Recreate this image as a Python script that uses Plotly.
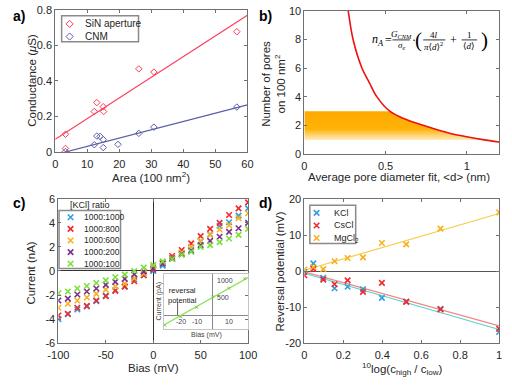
import numpy as np
import plotly.graph_objects as go

W, H = 512, 386

# ---- a) conductance vs area
area_sin = [3.2, 3.2, 12.2, 13.0, 15.0, 15.1, 26.1, 30.8, 56.7]
g_sin = [0.100, 0.020, 0.228, 0.278, 0.255, 0.228, 0.468, 0.450, 0.677]
area_cnm = [3.2, 12.2, 13.0, 14.0, 15.0, 15.0, 19.6, 26.1, 30.8, 56.7]
g_cnm = [0.003, 0.041, 0.090, 0.088, 0.070, 0.025, 0.043, 0.105, 0.140, 0.253]
area_fit = [0, 60]
fit_sin = (0.01163, 0.072)     # slope, intercept
fit_cnm = (0.00467, -0.015)

# ---- b) pore density vs diameter
diam = [0.26, 0.27, 0.30, 0.355, 0.40, 0.447, 0.526, 0.60, 0.75, 0.90, 1.00, 1.10, 1.20]
n_pores = [10.8, 10.0, 8.0, 6.0, 5.0, 4.0, 3.0, 2.55, 1.95, 1.45, 1.22, 1.02, 0.85]
band = (1.0, 3.0)

# ---- c) I-V curves
bias = [-100, -90, -80, -70, -60, -50, -40, -30, -20, -10, 0,
        10, 20, 30, 40, 50, 60, 70, 80, 90, 100]
ratios = ["1000:1000", "1000:800", "1000:600", "1000:200", "1000:100"]
i_1000 = [-4.0, -3.6, -3.2, -2.95, -2.5, -2.05, -1.6, -1.3, -0.7, -0.35, 0.0,
          0.45, 1.0, 1.5, 1.75, 2.45, 3.05, 3.75, 4.05, 4.6, 5.2]
i_800 = [-3.7, -3.55, -3.05, -2.9, -2.45, -2.1, -1.65, -1.3, -0.85, -0.35, 0.1,
         0.7, 1.25, 1.75, 2.3, 2.9, 3.5, 4.0, 4.65, 5.2, 5.7]
i_600 = [-3.05, -2.72, -2.45, -2.2, -1.9, -1.55, -1.3, -1.05, -0.6, -0.2, 0.35,
         0.65, 1.1, 1.55, 2.0, 2.5, 3.0, 3.45, 3.8, 4.4, 4.8]
i_200 = [-2.45, -2.3, -1.95, -1.7, -1.45, -1.15, -0.9, -0.65, -0.28, -0.05, 0.2,
         0.6, 1.05, 1.4, 1.65, 2.15, 2.5, 2.85, 3.25, 3.55, 4.0]
i_100 = [-1.85, -1.7, -1.45, -1.25, -1.0, -0.78, -0.52, -0.3, 0.0, 0.28, 0.5,
         0.8, 1.0, 1.35, 1.6, 2.0, 2.15, 2.4, 2.7, 3.0, 3.5]
currents = [i_1000, i_800, i_600, i_200, i_100]

# inset (pA)
inset_bias = [-30, -20, -10, 0, 10, 20]
inset_current = [-300, -50, 225, 528, 783, 1066]
inset_fit = (26.5, 515)
inset_fit_x = [-31, 23]

# ---- d) reversal potential
log_ratio = [0, 0.046, 0.097, 0.155, 0.222, 0.301, 0.398, 0.523, 0.699, 1.0]
salts = ["KCl", "CsCl", "MgCl<sub>2</sub>"]
v_kcl = [-0.2, 2.2, -1.8, -4.7, -4.3, -5.0, -7.4, -8.4, -10.4, -16.9]
v_cscl = [-1.1, 0.7, -2.3, -3.6, -2.5, -5.7, -3.2, -8.5, -10.6, -16.0]
v_mgcl2 = [0.5, 1.2, 0.6, 2.8, 3.7, 3.9, 7.9, 7.5, 11.9, 16.4]
vrev = [v_kcl, v_cscl, v_mgcl2]
fits_d = [(-15.66, -0.54), (-15.03, -0.17), (15.8, 0.3)]
log_fit = [0, 1]

RED = "#ff3b5c"
BLUE = "#5a5ea8"
C_COLS = ["#2e9fdf", "#f0282d", "#f5b120", "#7e2f8e", "#79e03a"]
D_MARK = ["#2e9fdf", "#f0282d", "#f5b120"]
D_LINE = ["#5fcfd0", "#f28a82", "#f7cc45"]
FONT = "Liberation Sans, Arial, sans-serif"
SERIF = "Liberation Serif, DejaVu Serif, serif"
TXT = "#262626"


def px(x, y):
    return x / W, 1 - y / H


fig = go.Figure()

# a)
fig.add_scatter(x=area_sin, y=g_sin, mode="markers", xaxis="x", yaxis="y",
                marker=dict(symbol="diamond-open", size=5, color=RED, line=dict(width=1)))
fig.add_scatter(x=area_cnm, y=g_cnm, mode="markers", xaxis="x", yaxis="y",
                marker=dict(symbol="diamond-open", size=5, color=BLUE, line=dict(width=1)))
for (k, b), col in [(fit_sin, RED), (fit_cnm, BLUE)]:
    fig.add_scatter(x=area_fit, y=np.polyval([k, b], area_fit), mode="lines",
                    xaxis="x", yaxis="y", line=dict(color=col, width=1.2))

# b) shaded band under the curve, fading downwards
d_arr, n_arr = np.array(diam), np.array(n_pores)
lo, hi = band
inside = (n_arr > lo) & (n_arr < hi)
xs = [0, np.interp(lo, n_arr[::-1], d_arr[::-1])] + list(d_arr[inside][::-1]) + \
     [np.interp(hi, n_arr[::-1], d_arr[::-1]), 0]
ys = [lo, lo] + list(n_arr[inside][::-1]) + [hi, hi]
fig.add_scatter(x=xs, y=ys, mode="lines", fill="toself", xaxis="x2", yaxis="y2",
                line=dict(width=0),
                fillgradient=dict(type="vertical", start=lo, stop=hi,
                                  colorscale=[[0, "rgba(255,176,0,0)"],
                                              [0.25, "rgba(255,182,20,0.5)"],
                                              [0.5, "rgba(255,176,0,0.97)"],
                                              [1, "rgba(255,170,0,1)"]]))
fig.add_scatter(x=diam, y=n_pores, mode="lines", line=dict(color="#ee1111", width=1.6, shape="spline"),
                xaxis="x2", yaxis="y2")

# c)
for name, cur, col in zip(ratios, currents, C_COLS):
    fig.add_scatter(x=bias, y=cur, mode="markers", name=name, xaxis="x3", yaxis="y3",
                    marker=dict(symbol="x-thin", size=5.5, color=col, line=dict(width=1.6, color=col)))
# inset
fig.add_scatter(x=inset_fit_x, y=np.polyval(inset_fit, inset_fit_x), mode="lines",
                xaxis="x5", yaxis="y5", line=dict(color="#8ee05a", width=1.2))
fig.add_scatter(x=inset_bias, y=inset_current, mode="markers", xaxis="x5", yaxis="y5",
                marker=dict(symbol="x-thin", size=3, color="#79d040", line=dict(width=1, color="#79d040")))

# d)
for name, v, fit, mc, lc in zip(salts, vrev, fits_d, D_MARK, D_LINE):
    fig.add_scatter(x=log_fit, y=np.polyval(fit, log_fit), mode="lines",
                    xaxis="x4", yaxis="y4", line=dict(color=lc, width=1.2))
for name, v, mc in zip(salts, vrev, D_MARK):
    fig.add_scatter(x=log_ratio, y=v, mode="markers", name=name, xaxis="x4", yaxis="y4",
                    marker=dict(symbol="x-thin", size=5.5, color=mc, line=dict(width=1.6, color=mc)))

# legend keys drawn in a pixel-space overlay
keys = [((61, 18.5), RED, "diamond-open"), ((61, 31.5), BLUE, "diamond-open")]
keys += [((62, 218 + 12 * i), c, "x-thin") for i, c in enumerate(C_COLS)]
keys += [((318, 213.5 + 13 * i), c, "x-thin") for i, c in enumerate(D_MARK)]
for (kx, ky), col, sym in keys:
    fig.add_scatter(x=[kx], y=[ky], mode="markers", xaxis="x6", yaxis="y6",
                    marker=dict(symbol=sym, size=5.5, color=col,
                                line=dict(width=1 if sym != "x-thin" else 1.6, color=col)))

AX = dict(showline=True, linecolor="#707070", linewidth=1, mirror="ticks", ticks="inside",
          ticklen=3, tickcolor="#707070", showgrid=False, zeroline=False, fixedrange=True,
          tickfont=dict(size=11, color=TXT, family=FONT))
XAX = dict(AX, ticklabelstandoff=2)


def dom_x(l, r):
    return [l / W, r / W]


def dom_y(t, b):
    return [1 - b / H, 1 - t / H]


def lbl(vals):
    return ["%g" % v for v in vals]


xa_t = [0, 10, 20, 30, 40, 50, 60]
ya_t = [0, 0.2, 0.4, 0.6, 0.8]
xb_t = [0, 0.5, 1]
yb_t = [0, 2, 4, 6, 8, 10]
xc_t = [-100, -50, 0, 50, 100]
yc_t = [-6, -4, -2, 0, 2, 4, 6]
xd_t = [0, 0.2, 0.4, 0.6, 0.8, 1]
yd_t = [-20, -10, 0, 10, 20]

fig.update_layout(
    width=W, height=H, autosize=False, showlegend=False,
    margin=dict(l=0, r=0, t=0, b=0),
    paper_bgcolor="white", plot_bgcolor="rgba(0,0,0,0)",
    font=dict(family=FONT, color=TXT, size=11),
    xaxis=dict(XAX, domain=dom_x(46, 246), anchor="y", range=[0, 60], tickvals=xa_t, ticktext=lbl(xa_t)),
    yaxis=dict(AX, domain=dom_y(4, 150.7), anchor="x", range=[0, 0.8], tickvals=ya_t, ticktext=lbl(ya_t)),
    xaxis2=dict(XAX, domain=dom_x(305.3, 508), anchor="y2", range=[0, 1.2], tickvals=xb_t, ticktext=lbl(xb_t)),
    yaxis2=dict(AX, domain=dom_y(5, 153), anchor="x2", range=[0, 10], tickvals=yb_t, ticktext=lbl(yb_t)),
    xaxis3=dict(XAX, domain=dom_x(49.3, 246.7), anchor="y3", range=[-100, 100], tickvals=xc_t,
                ticktext=lbl(xc_t), zeroline=True, zerolinecolor="#333", zerolinewidth=1),
    yaxis3=dict(AX, domain=dom_y(199, 348), anchor="x3", range=[-6, 6], tickvals=yc_t,
                ticktext=lbl(yc_t), zeroline=True, zerolinecolor="#333", zerolinewidth=1),
    xaxis4=dict(XAX, domain=dom_x(305.3, 508), anchor="y4", range=[0, 1], tickvals=xd_t, ticktext=lbl(xd_t)),
    yaxis4=dict(AX, domain=dom_y(199.7, 348), anchor="x4", range=[-20, 20], tickvals=yd_t,
                ticktext=lbl(yd_t), zeroline=True, zerolinecolor="#555", zerolinewidth=1),
    xaxis5=dict(domain=dom_x(159, 246.7), anchor="y5", range=[-30.6, 22], showticklabels=False,
                ticks="", showline=True, mirror=True, linecolor="#c4c4c4", showgrid=False,
                zeroline=True, zerolinecolor="#888", zerolinewidth=1, fixedrange=True),
    yaxis5=dict(domain=dom_y(276.3, 333), anchor="x5", range=[-400, 1210], showticklabels=False,
                ticks="", showline=True, mirror=True, linecolor="#c4c4c4", showgrid=False,
                zeroline=True, zerolinecolor="#888", zerolinewidth=1, fixedrange=True),
    xaxis6=dict(domain=[0, 1], anchor="y6", range=[0, W], visible=False, fixedrange=True),
    yaxis6=dict(domain=[0, 1], anchor="x6", range=[H, 0], visible=False, fixedrange=True),
)

shapes = []
annots = []


def note(text, x, y, size=11.5, xa="center", ya="middle", angle=0, color=TXT, family=FONT):
    px_, py_ = px(x, y)
    annots.append(dict(text=text, x=px_, y=py_, xref="paper", yref="paper", showarrow=False,
                       xanchor=xa, yanchor=ya, textangle=angle,
                       font=dict(size=size, color=color, family=family)))


def box(l, t, r, b, color="#8a8a8a", width=1.5):
    x0, y1 = px(l, t)
    x1, y0 = px(r, b)
    shapes.append(dict(type="rect", xref="paper", yref="paper", x0=x0, x1=x1, y0=y0, y1=y1,
                       line=dict(color=color, width=width), fillcolor="white", layer="below"))


def hline(l, r, y, color="black", width=0.8):
    x0, yy = px(l, y)
    x1, _ = px(r, y)
    shapes.append(dict(type="line", xref="paper", yref="paper", x0=x0, x1=x1, y0=yy, y1=yy,
                       line=dict(color=color, width=width)))


# panel letters
for t, x, y in [("a)", 0, 10), ("b)", 256, 10), ("c)", 0, 203), ("d)", 256, 203)]:
    note("<b>%s</b>" % t, x, y, size=14, xa="left", color="black")

# axis titles
note("Conductance (<i>μ</i>S)", 21, 77, angle=-90)
note("Area (100 nm<sup>2</sup>)", 146, 177)
note("Number of pores<br>on 100 nm<sup>2</sup>", 273, 80, angle=-90)
note("Average pore diameter fit, &lt;d&gt; (nm)", 404, 177)
note("Current (nA)", 21, 276, angle=-90)
note("Bias (mV)", 148, 374)
note("Reversal potential (mV)", 280, 274, angle=-90)
note("<sup>10</sup>log(c<sub>high</sub> / c<sub>low</sub>)", 407, 375)

# legend a
box(52.7, 10, 132.7, 37)
note("SiN aperture", 75, 18.5, size=10, xa="left")
note("CNM", 75, 31.5, size=10, xa="left")

# legend c
box(50, 211, 114, 271)
note("[KCl] ratio", 82.5, 205.5, size=9, color="#222")
for i, r in enumerate(ratios):
    note(r, 74, 218 + 12 * i, size=8.5, xa="left")

# legend d
box(311, 205.7, 358.7, 245)
for i, s in enumerate(salts):
    note(s, 334, 213.5 + 13 * i, size=9, xa="left")

# inset labels
for v in [-20, -10, 10]:
    annots.append(dict(text=str(v), x=v, y=0, xref="x5", yref="y5", showarrow=False,
                       yanchor="top", yshift=-1, font=dict(size=7, color="#444", family=FONT)))
for v in [500, 1000]:
    annots.append(dict(text=str(v), x=0, y=v, xref="x5", yref="y5", showarrow=False,
                       xanchor="left", xshift=2, font=dict(size=7, color="#444", family=FONT)))
note("Current (pA)", 153, 305, size=7, angle=-90, color="#444")
note("Bias (mV)", 203, 340, size=7, color="#444")
note("reversal<br>potential", 161.5, 299, size=7.5, xa="left", color="#222")
shapes.append(dict(type="line", xref="x5", yref="y5", x0=-22, x1=-22, y0=0, y1=380,
                   line=dict(color="#333", width=0.8)))

# equation in panel b
note("<i>n</i><sub><i>A</i></sub>", 382, 35, size=12, family=SERIF, color="black")
note("=", 393, 35, size=12, family=SERIF, color="black")
note("<i>G</i><sub><i>CNM</i></sub>", 406, 29.5, size=9, family=SERIF, color="black")
hline(397, 415, 35)
note("<i>σ</i><sub><i>e</i></sub>", 406, 41, size=9, family=SERIF, color="black")
note("·", 419, 35, size=12, family=SERIF, color="black")
note("(", 424, 35, size=21, family=SERIF, color="black")
note("4<i>l</i>", 440, 29.5, size=9, family=SERIF, color="black")
hline(429, 452, 35)
note("<i>π</i>⟨<i>d</i>⟩<sup>2</sup>", 440, 41, size=9, family=SERIF, color="black")
note("+", 460, 35, size=12, family=SERIF, color="black")
note("1", 477, 29.5, size=9, family=SERIF, color="black")
hline(469, 485, 35)
note("⟨<i>d</i>⟩", 477, 41, size=9, family=SERIF, color="black")
note(")", 493, 35, size=21, family=SERIF, color="black")

fig.update_layout(shapes=shapes, annotations=annots)
fig.write_html("out.html", config={"displayModeBar": False},
               post_script="document.body.style.margin='0';")
